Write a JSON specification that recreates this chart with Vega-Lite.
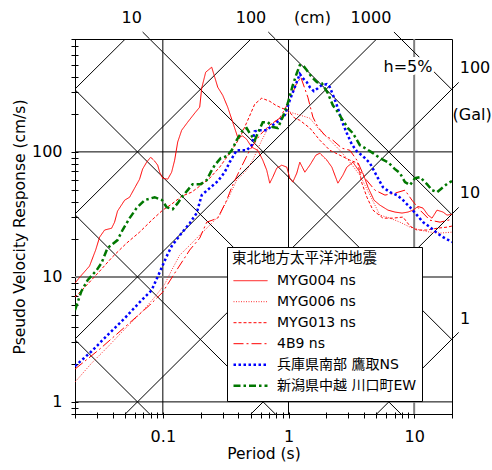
{
"$schema": "https://vega.github.io/schema/vega-lite/v6.json",
"width": 377, "height": 375,
"autosize": "none",
"padding": {"left": 75, "top": 39, "right": 40, "bottom": 56},
"config": {"view": {"stroke": "#000", "strokeWidth": 1}, "font": "DejaVu Sans"},
"datasets": {
"series": [
{"s":"MYG004 ns","T":0.02,"SV":8.91},{"s":"MYG004 ns","T":0.0221,"SV":10.1},{"s":"MYG004 ns","T":0.0261,"SV":12.2},{"s":"MYG004 ns","T":0.0292,"SV":16.4},{"s":"MYG004 ns","T":0.0314,"SV":20.8},{"s":"MYG004 ns","T":0.0344,"SV":23.7},{"s":"MYG004 ns","T":0.0391,"SV":24.5},{"s":"MYG004 ns","T":0.0413,"SV":27.4},{"s":"MYG004 ns","T":0.0436,"SV":33.6},{"s":"MYG004 ns","T":0.0497,"SV":41.1},{"s":"MYG004 ns","T":0.0544,"SV":43.4},{"s":"MYG004 ns","T":0.0596,"SV":51.3},{"s":"MYG004 ns","T":0.0653,"SV":60.5},{"s":"MYG004 ns","T":0.069,"SV":72.8},{"s":"MYG004 ns","T":0.0743,"SV":82.7},{"s":"MYG004 ns","T":0.08,"SV":90.7},{"s":"MYG004 ns","T":0.0861,"SV":84.3},{"s":"MYG004 ns","T":0.091,"SV":78.3},{"s":"MYG004 ns","T":0.0944,"SV":68.8},{"s":"MYG004 ns","T":0.0998,"SV":61.6},{"s":"MYG004 ns","T":0.1094,"SV":60.5},{"s":"MYG004 ns","T":0.1175,"SV":68.8},{"s":"MYG004 ns","T":0.1242,"SV":85.9},{"s":"MYG004 ns","T":0.1313,"SV":120},{"s":"MYG004 ns","T":0.1412,"SV":149},{"s":"MYG004 ns","T":0.1577,"SV":173},{"s":"MYG004 ns","T":0.1793,"SV":204},{"s":"MYG004 ns","T":0.1965,"SV":228},{"s":"MYG004 ns","T":0.2038,"SV":323},{"s":"MYG004 ns","T":0.2193,"SV":434},{"s":"MYG004 ns","T":0.2448,"SV":476},{"s":"MYG004 ns","T":0.2588,"SV":396},{"s":"MYG004 ns","T":0.2735,"SV":329},{"s":"MYG004 ns","T":0.2995,"SV":284},{"s":"MYG004 ns","T":0.3282,"SV":228},{"s":"MYG004 ns","T":0.3597,"SV":173},{"s":"MYG004 ns","T":0.3943,"SV":131},{"s":"MYG004 ns","T":0.4322,"SV":134},{"s":"MYG004 ns","T":0.4648,"SV":126},{"s":"MYG004 ns","T":0.5095,"SV":109},{"s":"MYG004 ns","T":0.5693,"SV":103},{"s":"MYG004 ns","T":0.624,"SV":85.9},{"s":"MYG004 ns","T":0.6709,"SV":71.4},{"s":"MYG004 ns","T":0.7092,"SV":56.2},{"s":"MYG004 ns","T":0.7497,"SV":62.8},{"s":"MYG004 ns","T":0.806,"SV":74.1},{"s":"MYG004 ns","T":0.8835,"SV":78.3},{"s":"MYG004 ns","T":0.9693,"SV":75.5},{"s":"MYG004 ns","T":1.024,"SV":61.6},{"s":"MYG004 ns","T":1.082,"SV":57.3},{"s":"MYG004 ns","T":1.164,"SV":67.6},{"s":"MYG004 ns","T":1.23,"SV":82.7},{"s":"MYG004 ns","T":1.349,"SV":68.8},{"s":"MYG004 ns","T":1.479,"SV":78.3},{"s":"MYG004 ns","T":1.652,"SV":94.1},{"s":"MYG004 ns","T":1.776,"SV":97.7},{"s":"MYG004 ns","T":2.019,"SV":85.9},{"s":"MYG004 ns","T":2.213,"SV":75.5},{"s":"MYG004 ns","T":2.471,"SV":56.2},{"s":"MYG004 ns","T":2.708,"SV":65.1},{"s":"MYG004 ns","T":2.912,"SV":75.5},{"s":"MYG004 ns","T":3.255,"SV":82.7},{"s":"MYG004 ns","T":3.7,"SV":68.8},{"s":"MYG004 ns","T":3.911,"SV":67.6},{"s":"MYG004 ns","T":4.287,"SV":52.2},{"s":"MYG004 ns","T":4.79,"SV":41.1},{"s":"MYG004 ns","T":5.339,"SV":37.5},{"s":"MYG004 ns","T":6.187,"SV":34.2},{"s":"MYG004 ns","T":7.033,"SV":33.0},{"s":"MYG004 ns","T":8.0,"SV":32.4},{"s":"MYG004 ns","T":8.931,"SV":33.0},{"s":"MYG004 ns","T":9.79,"SV":34.2},{"s":"MYG004 ns","T":10.73,"SV":36.6},{"s":"MYG004 ns","T":11.76,"SV":35.5},{"s":"MYG004 ns","T":12.89,"SV":31.2},{"s":"MYG004 ns","T":13.87,"SV":29.5},{"s":"MYG004 ns","T":15.2,"SV":34.2},{"s":"MYG004 ns","T":16.98,"SV":33.0},{"s":"MYG004 ns","T":18.26,"SV":31.2},{"s":"MYG004 ns","T":20,"SV":31.7},

{"s":"MYG006 ns","T":0.02,"SV":1.44},{"s":"MYG006 ns","T":0.0271,"SV":2.04},{"s":"MYG006 ns","T":0.0363,"SV":2.74},{"s":"MYG006 ns","T":0.0497,"SV":3.82},{"s":"MYG006 ns","T":0.0678,"SV":5.22},{"s":"MYG006 ns","T":0.0861,"SV":6.88},{"s":"MYG006 ns","T":0.1035,"SV":8.74},{"s":"MYG006 ns","T":0.1175,"SV":11.3},{"s":"MYG006 ns","T":0.1361,"SV":14.9},{"s":"MYG006 ns","T":0.1636,"SV":17.9},{"s":"MYG006 ns","T":0.1965,"SV":21.6},{"s":"MYG006 ns","T":0.236,"SV":25.9},{"s":"MYG006 ns","T":0.2834,"SV":31.2},{"s":"MYG006 ns","T":0.3403,"SV":45.1},{"s":"MYG006 ns","T":0.387,"SV":59.4},{"s":"MYG006 ns","T":0.4648,"SV":71.4},{"s":"MYG006 ns","T":0.5195,"SV":85.9},{"s":"MYG006 ns","T":0.6126,"SV":124},{"s":"MYG006 ns","T":0.7092,"SV":164},{"s":"MYG006 ns","T":0.8521,"SV":186},{"s":"MYG006 ns","T":1.024,"SV":208},{"s":"MYG006 ns","T":1.23,"SV":197},{"s":"MYG006 ns","T":1.479,"SV":186},{"s":"MYG006 ns","T":1.776,"SV":149},{"s":"MYG006 ns","T":2.134,"SV":124},{"s":"MYG006 ns","T":2.562,"SV":103},{"s":"MYG006 ns","T":3.079,"SV":82.7},{"s":"MYG006 ns","T":3.7,"SV":65.1},{"s":"MYG006 ns","T":4.446,"SV":45.1},{"s":"MYG006 ns","T":5.339,"SV":31.2},{"s":"MYG006 ns","T":6.416,"SV":29.5},{"s":"MYG006 ns","T":7.708,"SV":27.4},{"s":"MYG006 ns","T":9.262,"SV":25.0},{"s":"MYG006 ns","T":11.13,"SV":23.7},{"s":"MYG006 ns","T":13.37,"SV":22.8},{"s":"MYG006 ns","T":16.07,"SV":22.4},{"s":"MYG006 ns","T":20,"SV":22.8},

{"s":"MYG013 ns","T":0.02,"SV":6.88},{"s":"MYG013 ns","T":0.0252,"SV":8.74},{"s":"MYG013 ns","T":0.0314,"SV":11.1},{"s":"MYG013 ns","T":0.0396,"SV":14.4},{"s":"MYG013 ns","T":0.0514,"SV":18.6},{"s":"MYG013 ns","T":0.0653,"SV":22.8},{"s":"MYG013 ns","T":0.0815,"SV":28.4},{"s":"MYG013 ns","T":0.0998,"SV":34.2},{"s":"MYG013 ns","T":0.1175,"SV":38.2},{"s":"MYG013 ns","T":0.1412,"SV":44.2},{"s":"MYG013 ns","T":0.1696,"SV":47.6},{"s":"MYG013 ns","T":0.1965,"SV":53.2},{"s":"MYG013 ns","T":0.236,"SV":61.6},{"s":"MYG013 ns","T":0.2834,"SV":75.5},{"s":"MYG013 ns","T":0.3403,"SV":97.7},{"s":"MYG013 ns","T":0.4089,"SV":129},{"s":"MYG013 ns","T":0.4738,"SV":179},{"s":"MYG013 ns","T":0.5386,"SV":241},{"s":"MYG013 ns","T":0.6126,"SV":269},{"s":"MYG013 ns","T":0.7092,"SV":254},{"s":"MYG013 ns","T":0.792,"SV":236},{"s":"MYG013 ns","T":0.8835,"SV":224},{"s":"MYG013 ns","T":0.9872,"SV":216},{"s":"MYG013 ns","T":1.122,"SV":186},{"s":"MYG013 ns","T":1.23,"SV":179},{"s":"MYG013 ns","T":1.479,"SV":155},{"s":"MYG013 ns","T":1.776,"SV":124},{"s":"MYG013 ns","T":2.134,"SV":103},{"s":"MYG013 ns","T":2.562,"SV":94.1},{"s":"MYG013 ns","T":3.079,"SV":85.9},{"s":"MYG013 ns","T":3.566,"SV":81.2},{"s":"MYG013 ns","T":3.838,"SV":56.2},{"s":"MYG013 ns","T":4.207,"SV":43.4},{"s":"MYG013 ns","T":4.699,"SV":34.2},{"s":"MYG013 ns","T":5.644,"SV":29.5},{"s":"MYG013 ns","T":6.781,"SV":29.5},{"s":"MYG013 ns","T":8.148,"SV":30.1},{"s":"MYG013 ns","T":9.262,"SV":25.5},{"s":"MYG013 ns","T":10.53,"SV":23.7},{"s":"MYG013 ns","T":12.65,"SV":23.7},{"s":"MYG013 ns","T":15.2,"SV":24.5},{"s":"MYG013 ns","T":18.26,"SV":25.0},{"s":"MYG013 ns","T":20,"SV":25.5},

{"s":"4B9 ns","T":0.02,"SV":1.83},{"s":"4B9 ns","T":0.0314,"SV":2.64},{"s":"4B9 ns","T":0.0497,"SV":3.96},{"s":"4B9 ns","T":0.0785,"SV":5.94},{"s":"4B9 ns","T":0.0998,"SV":7.55},{"s":"4B9 ns","T":0.1242,"SV":10.7},{"s":"4B9 ns","T":0.1636,"SV":16.4},{"s":"4B9 ns","T":0.1965,"SV":20.4},{"s":"4B9 ns","T":0.2234,"SV":27.4},{"s":"4B9 ns","T":0.2735,"SV":29.5},{"s":"4B9 ns","T":0.3224,"SV":41.1},{"s":"4B9 ns","T":0.3534,"SV":52.2},{"s":"4B9 ns","T":0.4089,"SV":71.4},{"s":"4B9 ns","T":0.4914,"SV":103},{"s":"4B9 ns","T":0.5903,"SV":136},{"s":"4B9 ns","T":0.7092,"SV":164},{"s":"4B9 ns","T":0.8521,"SV":186},{"s":"4B9 ns","T":1.024,"SV":259},{"s":"4B9 ns","T":1.143,"SV":342},{"s":"4B9 ns","T":1.253,"SV":396},{"s":"4B9 ns","T":1.425,"SV":274},{"s":"4B9 ns","T":1.563,"SV":190},{"s":"4B9 ns","T":1.713,"SV":158},{"s":"4B9 ns","T":1.947,"SV":136},{"s":"4B9 ns","T":2.254,"SV":124},{"s":"4B9 ns","T":2.66,"SV":107},{"s":"4B9 ns","T":3.079,"SV":103},{"s":"4B9 ns","T":3.5,"SV":85.9},{"s":"4B9 ns","T":4.056,"SV":61.6},{"s":"4B9 ns","T":4.873,"SV":49.4},{"s":"4B9 ns","T":5.853,"SV":45.1},{"s":"4B9 ns","T":7.033,"SV":46.8},{"s":"4B9 ns","T":8.45,"SV":49.4},{"s":"4B9 ns","T":9.6,"SV":41.1},{"s":"4B9 ns","T":11.13,"SV":34.2},{"s":"4B9 ns","T":13.37,"SV":28.4},{"s":"4B9 ns","T":16.07,"SV":27.4},{"s":"4B9 ns","T":20,"SV":28.9},

{"s":"兵庫県南部 鷹取NS","T":0.02,"SV":1.93},{"s":"兵庫県南部 鷹取NS","T":0.0271,"SV":2.54},{"s":"兵庫県南部 鷹取NS","T":0.0363,"SV":3.42},{"s":"兵庫県南部 鷹取NS","T":0.0497,"SV":4.67},{"s":"兵庫県南部 鷹取NS","T":0.0678,"SV":6.51},{"s":"兵庫県南部 鷹取NS","T":0.0815,"SV":7.83},{"s":"兵庫県南部 鷹取NS","T":0.0944,"SV":10.9},{"s":"兵庫県南部 鷹取NS","T":0.1072,"SV":14.6},{"s":"兵庫県南部 鷹取NS","T":0.1175,"SV":17.6},{"s":"兵庫県南部 鷹取NS","T":0.1412,"SV":22.4},{"s":"兵庫県南部 鷹取NS","T":0.1636,"SV":26.9},{"s":"兵庫県南部 鷹取NS","T":0.1859,"SV":32.4},{"s":"兵庫県南部 鷹取NS","T":0.2038,"SV":45.1},{"s":"兵庫県南部 鷹取NS","T":0.236,"SV":51.3},{"s":"兵庫県南部 鷹取NS","T":0.2735,"SV":58.3},{"s":"兵庫県南部 鷹取NS","T":0.3106,"SV":68.8},{"s":"兵庫県南部 鷹取NS","T":0.3403,"SV":82.7},{"s":"兵庫県南部 鷹取NS","T":0.387,"SV":103},{"s":"兵庫県南部 鷹取NS","T":0.4648,"SV":103},{"s":"兵庫県南部 鷹取NS","T":0.5095,"SV":113},{"s":"兵庫県南部 鷹取NS","T":0.5386,"SV":146},{"s":"兵庫県南部 鷹取NS","T":0.5903,"SV":149},{"s":"兵庫県南部 鷹取NS","T":0.6709,"SV":149},{"s":"兵庫県南部 鷹取NS","T":0.7497,"SV":164},{"s":"兵庫県南部 鷹取NS","T":0.8521,"SV":179},{"s":"兵庫県南部 鷹取NS","T":0.9354,"SV":197},{"s":"兵庫県南部 鷹取NS","T":1.024,"SV":259},{"s":"兵庫県南部 鷹取NS","T":1.122,"SV":329},{"s":"兵庫県南部 鷹取NS","T":1.23,"SV":420},{"s":"兵庫県南部 鷹取NS","T":1.3,"SV":389},{"s":"兵庫県南部 鷹取NS","T":1.399,"SV":361},{"s":"兵庫県南部 鷹取NS","T":1.479,"SV":329},{"s":"兵庫県南部 鷹取NS","T":1.59,"SV":306},{"s":"兵庫県南部 鷹取NS","T":1.713,"SV":323},{"s":"兵庫県南部 鷹取NS","T":1.842,"SV":342},{"s":"兵庫県南部 鷹取NS","T":2.019,"SV":348},{"s":"兵庫県南部 鷹取NS","T":2.134,"SV":329},{"s":"兵庫県南部 鷹取NS","T":2.295,"SV":274},{"s":"兵庫県南部 鷹取NS","T":2.471,"SV":224},{"s":"兵庫県南部 鷹取NS","T":2.66,"SV":176},{"s":"兵庫県南部 鷹取NS","T":2.912,"SV":141},{"s":"兵庫県南部 鷹取NS","T":3.19,"SV":115},{"s":"兵庫県南部 鷹取NS","T":3.5,"SV":101},{"s":"兵庫県南部 鷹取NS","T":3.911,"SV":92.4},{"s":"兵庫県南部 鷹取NS","T":4.446,"SV":81.2},{"s":"兵庫県南部 鷹取NS","T":5.151,"SV":61.6},{"s":"兵庫県南部 鷹取NS","T":5.644,"SV":52.2},{"s":"兵庫県南部 鷹取NS","T":6.416,"SV":47.6},{"s":"兵庫県南部 鷹取NS","T":7.293,"SV":45.1},{"s":"兵庫県南部 鷹取NS","T":8.148,"SV":41.1},{"s":"兵庫県南部 鷹取NS","T":9.262,"SV":36.1},{"s":"兵庫県南部 鷹取NS","T":10.53,"SV":31.2},{"s":"兵庫県南部 鷹取NS","T":11.76,"SV":27.4},{"s":"兵庫県南部 鷹取NS","T":13.37,"SV":25.0},{"s":"兵庫県南部 鷹取NS","T":15.2,"SV":22.4},{"s":"兵庫県南部 鷹取NS","T":16.98,"SV":20.8},{"s":"兵庫県南部 鷹取NS","T":20,"SV":19.0},

{"s":"新潟県中越 川口町EW","T":0.02,"SV":5.42},{"s":"新潟県中越 川口町EW","T":0.0225,"SV":7.69},{"s":"新潟県中越 川口町EW","T":0.0252,"SV":9.41},{"s":"新潟県中越 川口町EW","T":0.0297,"SV":11.3},{"s":"新潟県中越 川口町EW","T":0.0325,"SV":12.9},{"s":"新潟県中越 川口町EW","T":0.0363,"SV":17.0},{"s":"新潟県中越 川口町EW","T":0.0436,"SV":19.7},{"s":"新潟県中越 川口町EW","T":0.0478,"SV":23.7},{"s":"新潟県中越 川口町EW","T":0.0544,"SV":29.5},{"s":"新潟県中越 川口町EW","T":0.0618,"SV":35.5},{"s":"新潟県中越 川口町EW","T":0.0716,"SV":41.1},{"s":"新潟県中越 川口町EW","T":0.0861,"SV":43.4},{"s":"新潟県中越 川口町EW","T":0.0987,"SV":41.1},{"s":"新潟県中越 川口町EW","T":0.1072,"SV":36.1},{"s":"新潟県中越 川口町EW","T":0.1197,"SV":34.8},{"s":"新潟県中越 川口町EW","T":0.1313,"SV":38.9},{"s":"新潟県中越 川口町EW","T":0.1412,"SV":43.4},{"s":"新潟県中越 川口町EW","T":0.1577,"SV":49.4},{"s":"新潟県中越 川口町EW","T":0.1727,"SV":55.2},{"s":"新潟県中越 川口町EW","T":0.2,"SV":55.2},{"s":"新潟県中越 川口町EW","T":0.2234,"SV":59.4},{"s":"新潟県中越 川口町EW","T":0.2404,"SV":68.8},{"s":"新潟県中越 川口町EW","T":0.2588,"SV":78.3},{"s":"新潟県中越 川口町EW","T":0.2888,"SV":89.1},{"s":"新潟県中越 川口町EW","T":0.3224,"SV":92.4},{"s":"新潟県中越 川口町EW","T":0.3534,"SV":103},{"s":"新潟県中越 川口町EW","T":0.387,"SV":124},{"s":"新潟県中越 川口町EW","T":0.4322,"SV":149},{"s":"新潟県中越 川口町EW","T":0.4648,"SV":155},{"s":"新潟県中越 川口町EW","T":0.4914,"SV":141},{"s":"新潟県中越 川口町EW","T":0.5386,"SV":124},{"s":"新潟県中越 川口町EW","T":0.624,"SV":173},{"s":"新潟県中越 川口町EW","T":0.684,"SV":173},{"s":"新潟県中越 川口町EW","T":0.7497,"SV":158},{"s":"新潟県中越 川口町EW","T":0.822,"SV":155},{"s":"新潟県中越 川口町EW","T":0.8997,"SV":190},{"s":"新潟県中越 川口町EW","T":0.9872,"SV":245},{"s":"新潟県中越 川口町EW","T":1.082,"SV":342},{"s":"新潟県中越 川口町EW","T":1.164,"SV":426},{"s":"新潟県中越 川口町EW","T":1.23,"SV":494},{"s":"新潟県中越 川口町EW","T":1.3,"SV":494},{"s":"新潟県中越 川口町EW","T":1.399,"SV":450},{"s":"新潟県中越 川口町EW","T":1.533,"SV":396},{"s":"新潟県中越 川口町EW","T":1.682,"SV":361},{"s":"新潟県中越 川口町EW","T":1.842,"SV":354},{"s":"新潟県中越 川口町EW","T":2.056,"SV":295},{"s":"新潟県中越 川口町EW","T":2.254,"SV":236},{"s":"新潟県中越 川口町EW","T":2.471,"SV":208},{"s":"新潟県中越 川口町EW","T":2.708,"SV":179},{"s":"新潟県中越 川口町EW","T":2.97,"SV":155},{"s":"新潟県中越 川口町EW","T":3.255,"SV":141},{"s":"新潟県中越 川口町EW","T":3.7,"SV":113},{"s":"新潟県中越 川口町EW","T":4.207,"SV":105},{"s":"新潟県中越 川口町EW","T":4.699,"SV":97.7},{"s":"新潟県中越 川口町EW","T":5.339,"SV":89.1},{"s":"新潟県中越 川口町EW","T":6.187,"SV":82.7},{"s":"新潟県中越 川口町EW","T":7.033,"SV":72.8},{"s":"新潟県中越 川口町EW","T":7.708,"SV":67.6},{"s":"新潟県中越 川口町EW","T":8.45,"SV":57.3},{"s":"新潟県中越 川口町EW","T":9.262,"SV":54.2},{"s":"新潟県中越 川口町EW","T":10.15,"SV":61.6},{"s":"新潟県中越 川口町EW","T":11.13,"SV":62.8},{"s":"新潟県中越 川口町EW","T":12.65,"SV":55.2},{"s":"新潟県中越 川口町EW","T":13.87,"SV":49.4},{"s":"新潟県中越 川口町EW","T":15.2,"SV":47.6},{"s":"新潟県中越 川口町EW","T":16.98,"SV":52.2},{"s":"新潟県中越 川口町EW","T":18.6,"SV":56.2},{"s":"新潟県中越 川口町EW","T":20,"SV":58.3}
],
"gridk": [
{"T":0.1,"SV":0.8,"T2":0.1,"SV2":800},
{"T":1,"SV":0.8,"T2":1,"SV2":800},
{"T":0.02,"SV":1,"T2":20,"SV2":1},
{"T":0.02,"SV":100,"T2":20,"SV2":100}
],
"gridg": [
{"T":10,"SV":0.8,"T2":10,"SV2":800},
{"T":0.02,"SV":10,"T2":20,"SV2":10}
],
"diag": [
{"T":0.01,"SV":6.283,"T2":40,"SV2":0.00157},
{"T":0.01,"SV":62.83,"T2":40,"SV2":0.0157},
{"T":0.01,"SV":628.3,"T2":40,"SV2":0.157},
{"T":0.01,"SV":6283,"T2":40,"SV2":1.571},
{"T":0.01,"SV":62832,"T2":40,"SV2":15.71},
{"T":0.01,"SV":628319,"T2":40,"SV2":157.1},
{"T":0.01,"SV":0.0015915,"T2":40,"SV2":6.366},
{"T":0.01,"SV":0.015915,"T2":40,"SV2":63.66},
{"T":0.01,"SV":0.15915,"T2":40,"SV2":636.6},
{"T":0.01,"SV":1.5915,"T2":40,"SV2":6366},
{"T":0.01,"SV":15.915,"T2":40,"SV2":63662},
{"T":0.01,"SV":159.15,"T2":40,"SV2":636620}
],
"ext": [
{"T":0.07854,"SV":800,"T2":0.06904,"SV2":910},
{"T":0.7854,"SV":800,"T2":0.6904,"SV2":910},
{"T":7.854,"SV":800,"T2":6.904,"SV2":910},
{"T":20,"SV":318.3,"T2":22.6,"SV2":359.7},
{"T":20,"SV":31.83,"T2":22.6,"SV2":35.97},
{"T":20,"SV":3.183,"T2":22.6,"SV2":3.597}
],
"notes": [
{"label":"10","T":0.0565,"SV":1178},
{"label":"100","T":0.503,"SV":1178},
{"label":"(cm)","T":1.552,"SV":1178},
{"label":"1000","T":4.53,"SV":1178},
{"label":"h=5%","T":8.93,"SV":477},
{"label":"100","T":30.5,"SV":473},
{"label":"(Gal)","T":28.9,"SV":197},
{"label":"10","T":27.8,"SV":46.9},
{"label":"1","T":25.4,"SV":4.6}
]
},
"encoding": {
  "x":{"field":"T","type":"quantitative","scale":{"type":"log","domain":[0.02,20]},"axis":{"title":"Period (s)","orient":"bottom","values":[0.02,0.03,0.04,0.05,0.06,0.07,0.08,0.09,0.1,0.2,0.3,0.4,0.5,0.6,0.7,0.8,0.9,1,2,3,4,5,6,7,8,9,10,20],
    "labelExpr":"datum.value==0.1?'0.1':datum.value==1?'1':datum.value==10?'10':''","offset":-2,"tickSize":6,"tickColor":"#000","domain":false,"grid":false,
    "labelFont":"DejaVu Sans","labelFontSize":16,"labelColor":"#000","labelPadding":10,"labelOverlap":false,"labelFlush":false,"labelBound":false,
    "titleFont":"DejaVu Sans","titleFontSize":15.5,"titleFontWeight":"normal","titleColor":"#000","titlePadding":2}},
  "y":{"field":"SV","type":"quantitative","scale":{"type":"log","domain":[0.8,800]},"axis":{"title":"Pseudo Velocity Response (cm/s)","orient":"left","values":[0.8,0.9,1,2,3,4,5,6,7,8,9,10,20,30,40,50,60,70,80,90,100,200,300,400,500,600,700,800],
    "labelExpr":"datum.value==1?'1':datum.value==10?'10':datum.value==100?'100':''","offset":-3,"tickSize":7,"tickColor":"#000","domain":false,"grid":false,
    "labelFont":"DejaVu Sans","labelFontSize":16,"labelColor":"#000","labelPadding":9,"labelOverlap":false,"labelFlush":false,"labelBound":false,
    "titleFont":"DejaVu Sans","titleFontSize":15.5,"titleFontWeight":"normal","titleColor":"#000","titlePadding":4}}
},
"layer": [
{"data":{"name":"gridk"},"mark":{"type":"rule","color":"#000","strokeWidth":1},
 "encoding":{"x2":{"field":"T2"},"y2":{"field":"SV2"}}},
{"data":{"name":"gridg"},"mark":{"type":"rule","color":"#808080","strokeWidth":2},
 "encoding":{"x2":{"field":"T2"},"y2":{"field":"SV2"}}},
{"data":{"name":"diag"},"mark":{"type":"rule","color":"#000","strokeWidth":1,"clip":true},
 "encoding":{"x2":{"field":"T2"},"y2":{"field":"SV2"}}},
{"data":{"name":"ext"},"mark":{"type":"rule","color":"#000","strokeWidth":1},
 "encoding":{"x2":{"field":"T2"},"y2":{"field":"SV2"}}},
{"data":{"name":"series"},"mark":{"type":"line","clip":true},
 "encoding":{
  "color":{"field":"s","type":"nominal","scale":{"domain":["MYG004 ns","MYG006 ns","MYG013 ns","4B9 ns","兵庫県南部 鷹取NS","新潟県中越 川口町EW"],"range":["#ff0000","#ff3030","#ff0000","#ff0000","#0000ff","#007700"]},
    "legend":{"orient":"none","legendX":152,"legendY":208,"title":"東北地方太平洋沖地震","titleFont":"Noto Sans CJK JP","titleFontSize":14.5,"titleFontWeight":"normal","titleColor":"#000","titlePadding":4,"labelFont":"DejaVu Sans, Noto Sans CJK JP","labelFontSize":14,"labelColor":"#000","labelLimit":300,"labelOffset":8,"symbolType":"stroke","symbolSize":1156,"clipHeight":20.4,"rowPadding":0,"padding":5,"strokeColor":"#000","fillColor":"#ffffff"}},
  "strokeDash":{"field":"s","type":"nominal","scale":{"domain":["MYG004 ns","MYG006 ns","MYG013 ns","4B9 ns","兵庫県南部 鷹取NS","新潟県中越 川口町EW"],"range":[[1,0],[1,1.5],[3,2],[10,3,2,3],[2.5,2.5],[7,3,2.5,3]]},
    "legend":{"orient":"none","legendX":152,"legendY":208,"title":"東北地方太平洋沖地震","titleFont":"Noto Sans CJK JP","titleFontSize":14.5,"titleFontWeight":"normal","titleColor":"#000","titlePadding":4,"labelFont":"DejaVu Sans, Noto Sans CJK JP","labelFontSize":14,"labelColor":"#000","labelLimit":300,"labelOffset":8,"symbolType":"stroke","symbolSize":1156,"clipHeight":20.4,"rowPadding":0,"padding":5,"strokeColor":"#000","fillColor":"#ffffff"}},
  "strokeWidth":{"field":"s","type":"nominal","scale":{"type":"ordinal","domain":["MYG004 ns","MYG006 ns","MYG013 ns","4B9 ns","兵庫県南部 鷹取NS","新潟県中越 川口町EW"],"range":[1,1,1,1,2.5,2.5]},
    "legend":{"orient":"none","legendX":152,"legendY":208,"title":"東北地方太平洋沖地震","titleFont":"Noto Sans CJK JP","titleFontSize":14.5,"titleFontWeight":"normal","titleColor":"#000","titlePadding":4,"labelFont":"DejaVu Sans, Noto Sans CJK JP","labelFontSize":14,"labelColor":"#000","labelLimit":300,"labelOffset":8,"symbolType":"stroke","symbolSize":1156,"clipHeight":20.4,"rowPadding":0,"padding":5,"strokeColor":"#000","fillColor":"#ffffff"}}
 }},
{"data":{"name":"notes"},"transform":[{"filter":"datum.label == 'h=5%'"}],"mark":{"type":"text","fontSize":16,"font":"DejaVu Sans","color":"#fff","stroke":"#fff","strokeWidth":6,"strokeJoin":"round","align":"center","baseline":"middle"},
 "encoding":{"text":{"field":"label"}}},
{"data":{"name":"notes"},"mark":{"type":"text","fontSize":16,"font":"DejaVu Sans","color":"#000","align":"center","baseline":"middle"},
 "encoding":{"text":{"field":"label"}}}
]
}
